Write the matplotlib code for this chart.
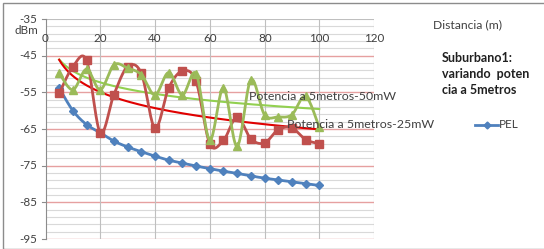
import numpy as np
import matplotlib
matplotlib.use("Agg")
import matplotlib.pyplot as plt
from matplotlib.lines import Line2D
from matplotlib.patches import Rectangle

plt.rcParams['font.family'] = ['Lato', 'DejaVu Sans']

# Datos
distancia = [5, 10, 15, 20, 25, 30, 35, 40, 45, 50, 55, 60, 65, 70, 75, 80, 85, 90, 95, 100]
pel = [-53.8, -60.0, -63.8, -66.0, -68.3, -69.9, -71.2, -72.4, -73.5, -74.3, -75.1,
       -75.8, -76.5, -77.1, -77.8, -78.4, -78.9, -79.4, -79.9, -80.4]
pot_25mw = [-55.3, -48.0, -46.3, -66.0, -55.6, -48.0, -49.8, -64.8, -53.8, -49.2, -52.0,
            -69.0, -68.1, -61.7, -67.7, -68.8, -65.2, -64.7, -67.9, -69.0]
pot_50mw = [-49.8, -54.3, -48.7, -54.3, -47.5, -48.4, -50.2, -55.7, -49.6, -55.7, -49.9,
            -68.0, -53.8, -69.7, -51.6, -61.1, -61.7, -61.1, -56.1, -64.5]

W, H = 544, 249
fig = plt.figure(figsize=(W / 100, H / 100), dpi=100)

def px(x, y):
    return x / W, 1 - y / H

def suavizar(x, y, n=20):
    # linea suavizada tipo Excel (bezier con tangentes catmull-rom)
    x = np.asarray(x, float)
    y = np.asarray(y, float)
    xx, yy = [x[0]], [y[0]]
    t = np.linspace(0, 1, n)[1:]
    for i in range(len(x) - 1):
        i0, i3 = max(i - 1, 0), min(i + 2, len(x) - 1)
        p0, p3 = (x[i], y[i]), (x[i + 1], y[i + 1])
        c1 = (x[i] + (x[i + 1] - x[i0]) / 6, y[i] + (y[i + 1] - y[i0]) / 6)
        c2 = (x[i + 1] - (x[i3] - x[i]) / 6, y[i + 1] - (y[i3] - y[i]) / 6)
        for k in range(2):
            pts = ((1 - t) ** 3 * p0[k] + 3 * (1 - t) ** 2 * t * c1[k]
                   + 3 * (1 - t) * t ** 2 * c2[k] + t ** 3 * p3[k])
            (xx if k == 0 else yy).extend(pts)
    return xx, yy

# marco exterior del grafico
fig.patches.append(Rectangle((3 / W, 0), 1, 1 - 3 / H, transform=fig.transFigure,
                             fill=False, edgecolor='#8c8c8c', lw=1.0))

ax = fig.add_axes([45.5 / W, 1 - 239 / H, (374 - 45.5) / W, (239 - 19) / H])
ax.set_xlim(0, 120)
ax.set_ylim(-95, -35)

# rejilla
for yv in np.arange(-93, -35, 2):
    if (yv + 95) % 10 != 0:
        ax.axhline(yv, color='#d9d9d9', lw=0.8, zorder=0)
for yv in range(-95, -35, 10):
    ax.axhline(yv, color='#e6a0a0', lw=1.0, zorder=0)
for xv in range(20, 121, 20):
    ax.axvline(xv, color='#bfbfbf', lw=0.8, zorder=0)
ax.axhline(-35, color='#bfbfbf', lw=0.8, zorder=0)

for s in ax.spines.values():
    s.set_visible(False)
ax.spines['left'].set_visible(True)
ax.spines['left'].set_color('#8c8c8c')
ax.set_xticks([])
ax.set_yticks([])

# series
c_blue, c_red, c_green = '#4f81bd', '#c0504d', '#9bbb59'
for ys, c, m, ms in [(pel, c_blue, 'D', 4.5), (pot_25mw, c_red, 's', 6), (pot_50mw, c_green, '^', 6)]:
    ax.plot(*suavizar(distancia, ys), color=c, lw=2, zorder=3)
    ax.plot(distancia, ys, ls='none', color=c, marker=m, ms=ms, zorder=3)

# lineas de tendencia logaritmicas (ajuste sobre los datos)
xs = np.linspace(5, 100, 200)
b, a = np.polyfit(np.log(distancia), pot_50mw, 1)
ax.plot(xs, a + b * np.log(xs), color='#92d050', lw=1.5, zorder=2)
b, a = np.polyfit(np.log(distancia), pot_25mw, 1)
ax.plot(xs, a + b * np.log(xs), color='#e00000', lw=1.5, zorder=2)

ax.text(74.3, -56.2, 'Potencia a 5metros-50mW', fontsize=8.9, color='#404040', va='center', zorder=5)
ax.text(88.1, -63.8, 'Potencia a 5metros-25mW', fontsize=8.9, color='#404040', va='center',
        clip_on=False, zorder=5)

# etiquetas de ejes
for yv in range(-95, -34, 10):
    yp = 19 + (-35 - yv) * 3.667
    fig.text(*px(37, yp), str(yv), fontsize=8.4, ha='right', va='center', color='#404040')
    ax.plot([-1.2, 0], [yv, yv], color='#8c8c8c', lw=0.8, clip_on=False)
for xv in range(0, 121, 20):
    fig.text(*px(45.5 + xv * 2.74, 38), str(xv), fontsize=8.4, ha='center', va='center', color='#404040')
fig.text(*px(26.5, 30), 'dBm', fontsize=8.4, ha='center', va='center', color='#404040')
fig.text(*px(433, 25), 'Distancia (m)', fontsize=8.7, ha='left', va='center', color='#404040')

fig.text(*px(442, 58), 'Suburbano1:', fontsize=9, fontweight='bold', va='center', color='#202020')
fig.text(*px(442, 74), 'variando  poten', fontsize=9, fontweight='bold', va='center', color='#202020')
fig.text(*px(442, 90), 'cia a 5metros', fontsize=9, fontweight='bold', va='center', color='#202020')

# leyenda (solo PEL)
fig.add_artist(Line2D([475 / W, 498 / W], [1 - 125 / H] * 2, color=c_blue, lw=2,
                      transform=fig.transFigure))
fig.add_artist(Line2D([486.5 / W], [1 - 125 / H], color=c_blue, marker='D', ms=3.5,
                      transform=fig.transFigure))
fig.text(*px(499, 125), 'PEL', fontsize=8.4, ha='left', va='center', color='#404040')

fig.savefig('out.png', dpi=100)
